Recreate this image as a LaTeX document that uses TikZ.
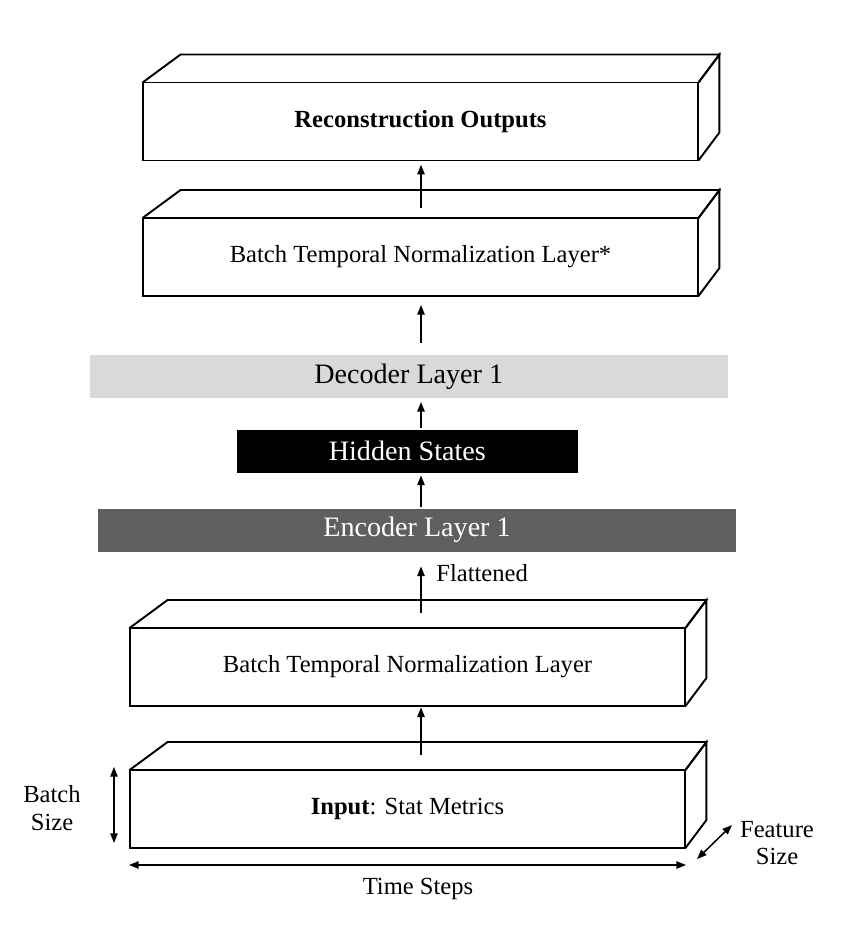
\documentclass[tikz,border=0pt]{standalone}
\usepackage{fontspec}
\setmainfont{Liberation Serif}
\usetikzlibrary{arrows.meta, positioning, calc}
\definecolor{CGrayLight}{HTML}{D9D9D9}
\definecolor{CGrayDark}{HTML}{5F5F5F}
\newcommand{\drawSlab}[1]{%
    % top face
    \draw[slabline] (#1.north west) -- ++(38,-28) -- ($(#1.north east)+(21,-28)$) -- (#1.north east);
    % side face
    \draw[slabline] (#1.north east) -- ++(21,-28) -- ++(0,78) -- (#1.south east);
}
\tikzset{
    slabline/.style={line width=1.1pt, line join=miter},
    slab/.style={draw, line width=1.1pt, minimum width=11.12cm, minimum height=1.56cm,
        outer sep=0pt, inner sep=0pt, font=\fontsize{14}{17}\selectfont},
    bar/.style={minimum height=0.86cm, outer sep=0pt, font=\fontsize{16}{19}\selectfont},
    flow/.style={-{Triangle[length=5.5pt, width=4.2pt]}, line width=0.85pt},
    dimarrow/.style={{Triangle[length=5.5pt, width=4.2pt]}-{Triangle[length=5.5pt, width=4.2pt]}, line width=0.85pt},
    dimlabel/.style={font=\fontsize{14}{15.5}\selectfont, align=center, inner sep=0pt},
}
\begin{document}
\begin{tikzpicture}[x=0.02cm, y=-0.02cm]
    \useasboundingbox (0,0) rectangle (848,940);

    % --- 1. BLOCKS ---
    \node[slab] (outBox) at (420.5,121.5) {\textbf{Reconstruction Outputs}};
    \drawSlab{outBox}

    \node[slab] (btnTop) at (420.5,257) {Batch Temporal Normalization Layer*};
    \drawSlab{btnTop}

    \node[bar, fill=CGrayLight, minimum width=12.77cm] (decoder) at (408.7,376.4) {Decoder Layer 1};
    \node[bar, fill=black, text=white, minimum width=6.81cm] (hidden) at (407.3,451) {Hidden States};
    \node[bar, fill=CGrayDark, text=white, minimum width=12.76cm] (encoder) at (417,530) {Encoder Layer 1};

    \node[slab] (btnLow) at (407.5,667) {Batch Temporal Normalization Layer};
    \drawSlab{btnLow}

    \node[slab] (input) at (407.5,809) {\textbf{Input}: Stat Metrics};
    \drawSlab{input}

    % --- 2. FLOW ---
    \coordinate (btnTopExit) at (421,208);
    \coordinate (btnLowExit) at (421,613);
    \coordinate (inputExit) at (421,755);

    \draw[flow, shorten >=2.4pt] (btnTopExit) -- (outBox.south -| btnTopExit);
    \draw[flow, shorten <=6.8pt, shorten >=5.1pt] (decoder.north -| btnTopExit) -- (btnTop.south -| btnTopExit);
    \draw[flow, shorten <=0.6pt, shorten >=2.3pt] (hidden.north -| btnTopExit) -- (decoder.south -| btnTopExit);
    \draw[flow, shorten <=1.1pt, shorten >=1.7pt] (encoder.north -| btnTopExit) -- (hidden.south -| btnTopExit);
    \draw[flow, shorten >=8.5pt] (btnLowExit) -- (encoder.south -| btnLowExit);
    \node[dimlabel, anchor=west] (flatLabel) at (436,573) {Flattened};
    \draw[flow, shorten >=0.8pt] (inputExit) -- (btnLow.south -| inputExit);

    % --- 3. DIMENSIONS ---
    \coordinate (batchTop) at (114,767);
    \coordinate (batchBot) at (114,843);
    \draw[dimarrow] (batchTop) -- (batchBot);
    \node[dimlabel] (batchLabel) at (52,808) {Batch\\Size};

    \coordinate (timeL) at (129,865);
    \coordinate (timeR) at (686,865);
    \draw[dimarrow] (timeL) -- (timeR);
    \node[dimlabel] (timeLabel) at (418,889) {Time Steps};

    \coordinate (featLow) at (697,859);
    \coordinate (featHigh) at (732,825);
    \draw[dimarrow] (featLow) -- (featHigh);
    \node[dimlabel] (featLabel) at (777,843) {Feature\\Size};

\end{tikzpicture}
\end{document}
